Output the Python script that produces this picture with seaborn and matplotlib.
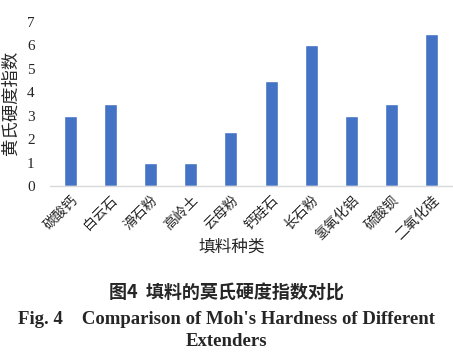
import matplotlib
matplotlib.use("Agg")
import matplotlib.pyplot as plt
import seaborn as sns
import pandas as pd

categories = ["碳酸钙", "白云石", "滑石粉", "高岭土", "云母粉", "钙硅石", "长石粉", "氢氧化铝", "硫酸钡", "二氧化硅"]
hardness = [3, 3.5, 1, 1, 2.3, 4.5, 6, 3, 3.5, 6.5]
yticks = [0, 1, 2, 3, 4, 5, 6, 7]

sns.set_theme(style="white")
plt.rcParams['font.family'] = ['Noto Sans CJK SC', 'DejaVu Sans']

df = pd.DataFrame({"cat": categories, "val": hardness})

fig = plt.figure(figsize=(4.53, 3.54), dpi=100)
ax = fig.add_axes([50/453, 168/354, 402/453, (186-22)/354])
sns.barplot(data=df, x="cat", y="val", color="#4472C4", saturation=1, width=0.32, ax=ax)
ax.set_ylim(0, 7)
ax.set_xlim(-0.5, len(categories) - 0.5)
ax.set_yticks(yticks)
ax.set_yticklabels([str(t) for t in yticks], family="Liberation Serif", fontsize=11)
ax.tick_params(axis="y", length=0, pad=11)
ax.tick_params(axis="x", length=0, pad=5)
for lbl in ax.get_xticklabels():
    lbl.set_rotation(45)
    lbl.set_ha("right")
    lbl.set_rotation_mode("anchor")
    lbl.set_fontsize(10)
for s in ["top", "right", "left"]:
    ax.spines[s].set_visible(False)
ax.spines["bottom"].set_color("#d9d9d9")
ax.spines["bottom"].set_linewidth(1)
ax.set_xlabel("填料种类", fontsize=12)
ax.xaxis.set_label_coords((232 - 50) / 402, -(247 - 186) / 164, transform=ax.transAxes)
ax.xaxis.label.set_va("center")
ax.set_ylabel("黄氏硬度指数", fontsize=12.5)
ax.yaxis.set_label_coords(-(50 - 11) / 402, (186 - 103) / 164, transform=ax.transAxes)
ax.yaxis.label.set_va("center")

fig.text(0.5, 1 - 293/354, "图4  填料的莫氏硬度指数对比", ha="center", va="center",
         fontsize=13, fontweight="bold")
fig.text(0.5, 1 - 319/354, "Fig. 4    Comparison of Moh's Hardness of Different", ha="center",
         va="center", fontsize=13.5, fontweight="bold", family="Liberation Serif")
fig.text(0.5, 1 - 342/354, "Extenders", ha="center", va="center", fontsize=13.5,
         fontweight="bold", family="Liberation Serif")

fig.savefig("out.png", dpi=100)
